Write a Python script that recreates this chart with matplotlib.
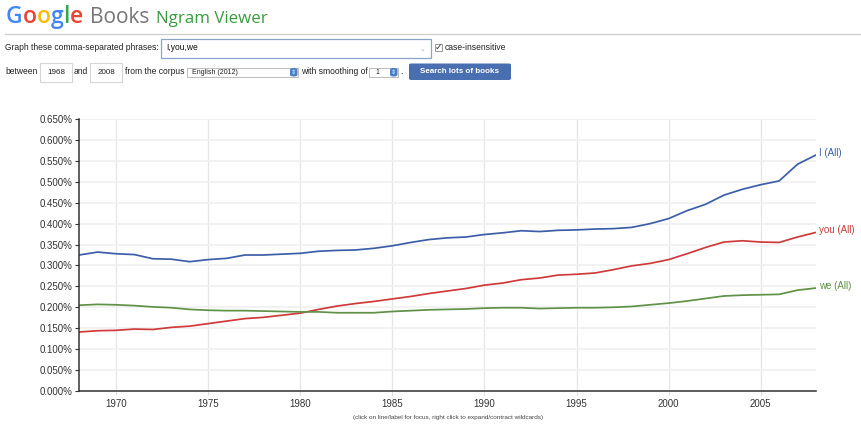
import matplotlib
matplotlib.use('Agg')
import matplotlib.pyplot as plt
from matplotlib.patches import Rectangle, FancyBboxPatch
from matplotlib.lines import Line2D
from matplotlib.ticker import MultipleLocator, FuncFormatter

plt.rcParams['font.family'] = ['Liberation Sans', 'DejaVu Sans']

# ngram frequencies (percent)
years = list(range(1968, 2009))
i_vals = [0.325, 0.332, 0.328, 0.326, 0.316, 0.315, 0.309, 0.314, 0.317, 0.325,
          0.325, 0.327, 0.329, 0.334, 0.336, 0.337, 0.341, 0.347, 0.355, 0.362,
          0.366, 0.368, 0.374, 0.378, 0.383, 0.381, 0.384, 0.385, 0.387, 0.388,
          0.391, 0.400, 0.412, 0.431, 0.446, 0.468, 0.482, 0.493, 0.502, 0.542,
          0.564]
you_vals = [0.141, 0.144, 0.145, 0.148, 0.147, 0.152, 0.155, 0.161, 0.167, 0.173,
            0.176, 0.181, 0.186, 0.195, 0.203, 0.209, 0.214, 0.220, 0.226, 0.233,
            0.239, 0.245, 0.253, 0.258, 0.266, 0.270, 0.277, 0.279, 0.282, 0.290,
            0.299, 0.305, 0.314, 0.328, 0.343, 0.356, 0.359, 0.356, 0.355, 0.368,
            0.379]
we_vals = [0.205, 0.207, 0.206, 0.204, 0.201, 0.199, 0.195, 0.193, 0.192, 0.192,
           0.191, 0.190, 0.189, 0.189, 0.187, 0.187, 0.187, 0.190, 0.192, 0.194,
           0.195, 0.196, 0.198, 0.199, 0.199, 0.197, 0.198, 0.199, 0.199, 0.200,
           0.202, 0.206, 0.210, 0.215, 0.221, 0.227, 0.229, 0.230, 0.231, 0.241,
           0.246]
series_labels = ['I (All)', 'you (All)', 'we (All)']
series_colors = ['#3c5ea8', '#d03a3a', '#5f9146']

W, H = 862, 425
fig = plt.figure(figsize=(W / 100, H / 100), dpi=100)
fig.patch.set_facecolor('white')


def fx(x):
    return x / W


def fy(y):
    return 1 - y / H


renderer = fig.canvas.get_renderer()

# header: Google Books Ngram Viewer
logo_colors = ['#4285f4', '#ea4335', '#fbbc05', '#4285f4', '#34a853', '#ea4335']
x = 6
for ch, col in zip('Google', logo_colors):
    t = fig.text(fx(x), fy(23), ch, color=col, fontsize=16.6, family='Open Sans',
                 va='baseline', ha='left', weight='semibold')
    x += t.get_window_extent(renderer).width
fig.text(fx(90), fy(23), 'Books', color='#757575', fontsize=15,
         family='Open Sans', va='baseline')
fig.text(fx(156), fy(23), 'Ngram Viewer', color='#3a9a3f', fontsize=12.2,
         family='Open Sans', va='baseline')
fig.add_artist(Line2D([fx(5), fx(862)], [fy(34), fy(34)], color='#d0d0d0', lw=1))

# form row 1
small = 6.15
fig.text(fx(5), fy(47.5), 'Graph these comma-separated phrases:', fontsize=small,
         color='#222', va='center')
fig.add_artist(Rectangle((fx(161), fy(57.5)), fx(431 - 161), (57.5 - 39) / H,
                         fill=False, edgecolor='#8aa4c8', lw=0.9))
fig.text(fx(166), fy(48), 'I,you,we', fontsize=small, color='#111', va='center')
fig.text(fx(423), fy(49), '⌄', fontsize=5, color='#aaa', va='center', ha='center',
         family='DejaVu Sans')
fig.add_artist(Rectangle((fx(435), fy(51)), fx(7), 7 / H, fill=False,
                         edgecolor='#999', lw=0.7))
fig.text(fx(438.5), fy(47.5), '✓', fontsize=6.5, color='#333', va='center',
         ha='center', family='DejaVu Sans')
fig.text(fx(445), fy(47.5), 'case-insensitive', fontsize=small, color='#222',
         va='center')

# form row 2
ry = 72
fig.text(fx(5), fy(ry), 'between', fontsize=small, color='#222', va='center')
for bx0, bx1, val in [(40, 72, '1968'), (90, 122, '2008')]:
    fig.add_artist(Rectangle((fx(bx0), fy(82)), fx(bx1 - bx0), 19 / H, fill=False,
                             edgecolor='#d5d5d5', lw=0.8))
    fig.text(fx((bx0 + bx1) / 2), fy(ry), val, fontsize=5.8, color='#222',
             va='center', ha='center')
fig.text(fx(74), fy(ry), 'and', fontsize=small, color='#222', va='center')
fig.text(fx(125), fy(ry), 'from the corpus', fontsize=small, color='#222',
         va='center')
fig.add_artist(Rectangle((fx(187), fy(77)), fx(111), 9.5 / H, fill=False,
                         edgecolor='#bbb', lw=0.7))
fig.add_artist(FancyBboxPatch((fx(290), fy(76.5)), fx(7.5), 8.5 / H,
                              boxstyle='round,pad=0,rounding_size=0.004',
                              facecolor='#4a7fc8', edgecolor='none'))
fig.text(fx(293.8), fy(72), '⇕', fontsize=4.5, color='white', va='center',
         ha='center', family='DejaVu Sans')
fig.text(fx(192), fy(72), 'English (2012)', fontsize=5, color='#222', va='center')
fig.text(fx(301), fy(ry), 'with smoothing of', fontsize=small, color='#222',
         va='center')
fig.add_artist(Rectangle((fx(369), fy(77)), fx(29), 9.5 / H, fill=False,
                         edgecolor='#bbb', lw=0.7))
fig.add_artist(FancyBboxPatch((fx(390), fy(76.5)), fx(7.5), 8.5 / H,
                              boxstyle='round,pad=0,rounding_size=0.004',
                              facecolor='#4a7fc8', edgecolor='none'))
fig.text(fx(393.8), fy(72), '⇕', fontsize=4.5, color='white', va='center',
         ha='center', family='DejaVu Sans')
fig.text(fx(375), fy(72), '1', fontsize=5, color='#222', va='center')
fig.text(fx(400.5), fy(ry), '.', fontsize=small, color='#222', va='center')
fig.add_artist(FancyBboxPatch((fx(409), fy(80)), fx(102), 16.5 / H,
                              boxstyle='round,pad=0,rounding_size=0.003',
                              facecolor='#4a6fb0', edgecolor='none'))
fig.text(fx(460), fy(71.7), 'Search lots of books', fontsize=5.8, color='white',
         weight='bold', va='center', ha='center')

# chart
ax = fig.add_axes([fx(79.2), fy(391), fx(816 - 79.2), (391 - 119) / H])
for vals, lab, col in zip([i_vals, you_vals, we_vals], series_labels, series_colors):
    ax.plot(years, vals, color=col, lw=1.25, solid_joinstyle='round')
    ax.annotate(lab, (years[-1], vals[-1]), xytext=(3, 2),
                textcoords='offset pixels', color=col, fontsize=7,
                va='center', ha='left', annotation_clip=False)

ax.set_xlim(1968, 2008)
ax.set_ylim(0, 0.65)
ax.xaxis.set_major_locator(MultipleLocator(5))
ax.yaxis.set_major_locator(MultipleLocator(0.05))
ax.yaxis.set_major_formatter(FuncFormatter(lambda v, p: f'{v:.3f}%'))
ax.grid(axis='x', color='#e6e6e6', lw=0.9)
ax.grid(axis='y', color='#f0f0f0', lw=1.2)
ax.set_axisbelow(True)
for side in ['top', 'right']:
    ax.spines[side].set_visible(False)
for side in ['left', 'bottom']:
    ax.spines[side].set_color('#333')
    ax.spines[side].set_linewidth(1.1)
ax.tick_params(axis='y', length=3, width=0.8, color='#333', labelsize=7,
               labelcolor='#333', pad=2)
ax.tick_params(axis='x', length=3, width=0.8, color='#ddd', labelsize=7,
               labelcolor='#333', pad=3)

fig.text(fx(448), fy(417), '(click on line/label for focus, right click to '
         'expand/contract wildcards)', fontsize=4.6, color='#444', ha='center',
         va='center')

fig.savefig('out.png', dpi=100)
